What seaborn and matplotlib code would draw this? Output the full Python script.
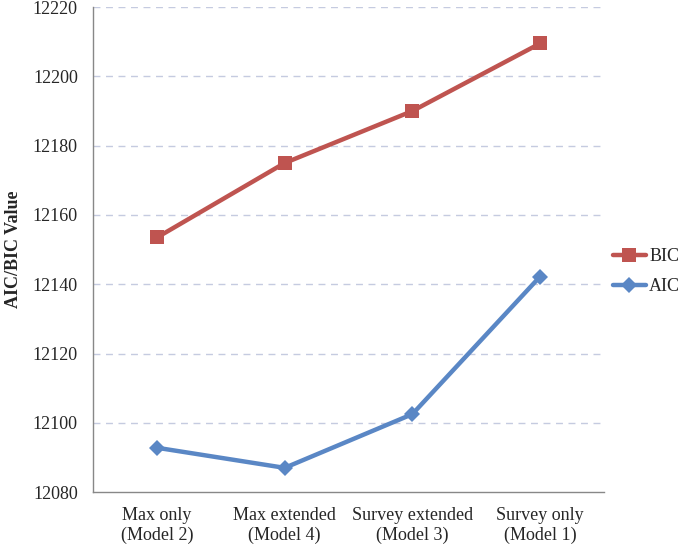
import matplotlib
matplotlib.use("Agg")
import matplotlib.pyplot as plt
import seaborn as sns
import pandas as pd
import numpy as np

categories = ["Max only\n(Model 2)", "Max extended\n(Model 4)",
              "Survey extended\n(Model 3)", "Survey only\n(Model 1)"]
bic_values = [12153.5, 12175.0, 12190.0, 12209.5]
aic_values = [12092.8, 12087.0, 12102.5, 12142.2]
y_ticks = [12080, 12100, 12120, 12140, 12160, 12180, 12200, 12220]

sns.set_theme(style="white")
plt.rcParams['font.family'] = ['Liberation Serif', 'DejaVu Serif']

df = pd.DataFrame({
    "Model": categories * 2,
    "Value": bic_values + aic_values,
    "Criterion": ["BIC"] * 4 + ["AIC"] * 4,
})
df["pos"] = list(range(4)) * 2

fig = plt.figure(figsize=(6.8, 5.48), dpi=100)
ax = fig.add_axes([0.137, 0.102, 0.751, 0.885])

palette = {"BIC": "#BF5450", "AIC": "#5A87C5"}
sns.lineplot(data=df, x="pos", y="Value", hue="Criterion", style="Criterion",
             hue_order=["BIC", "AIC"], style_order=["BIC", "AIC"],
             markers={"BIC": "s", "AIC": "D"}, dashes=False,
             palette=palette, linewidth=3.2, markersize=10, markeredgewidth=0,
             sort=False, ax=ax)
for line in ax.lines:
    if line.get_marker() == "D":
        line.set_markersize(8.5)

ax.set_xlim(-0.5, 3.5)
ax.set_ylim(12080, 12220)
ax.set_yticks(y_ticks)
ax.set_yticklabels([str(v) for v in y_ticks], fontsize=13)
ax.set_xticks(range(4))
ax.set_xticklabels(categories, fontsize=13, linespacing=1.15)
ax.set_xticks(np.arange(-0.5, 4.0, 1.0), minor=True)
ax.tick_params(axis="x", which="major", length=0, pad=11)
ax.tick_params(axis="x", which="minor", length=5, width=1, color="#888888", direction="out")
ax.tick_params(axis="y", which="major", length=5, width=1, color="#888888", direction="out", pad=6)

ax.set_xlabel("")
ax.set_ylabel("AIC/BIC Value", fontsize=13, fontweight="bold", labelpad=8)

for y in y_ticks[1:]:
    ax.axhline(y, color="#C5CBE0", linestyle=(0, (5, 4)), linewidth=1, zorder=0)

for s in ["top", "right"]:
    ax.spines[s].set_visible(False)
for s in ["left", "bottom"]:
    ax.spines[s].set_color("#888888")
    ax.spines[s].set_linewidth(1)

handles, labels = ax.get_legend_handles_labels()
leg = ax.legend(handles, labels, loc="center left", bbox_to_anchor=(0.891, 0.504),
                bbox_transform=fig.transFigure, frameon=False, fontsize=13,
                handlelength=1.8, handletextpad=0.2, labelspacing=0.7, borderaxespad=0)

fig.savefig("out.png", dpi=100)
